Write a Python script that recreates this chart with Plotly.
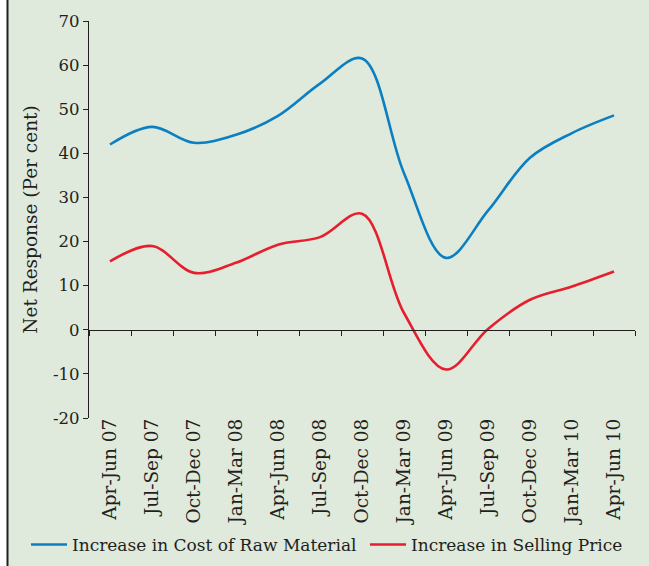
import plotly.graph_objects as go

quarters = ["Apr-Jun 07", "Jul-Sep 07", "Oct-Dec 07", "Jan-Mar 08", "Apr-Jun 08",
            "Jul-Sep 08", "Oct-Dec 08", "Jan-Mar 09", "Apr-Jun 09", "Jul-Sep 09",
            "Oct-Dec 09", "Jan-Mar 10", "Apr-Jun 10"]
raw_material = [42.0, 46.0, 42.4, 44.2, 48.5, 55.8, 61.5, 35.5, 16.3, 27.0, 39.0, 44.6, 48.6]
selling_price = [15.5, 19.0, 12.9, 15.2, 19.3, 21.0, 26.3, 3.8, -9.0, 0.2, 6.8, 9.8, 13.2]
ytick_vals = [-20, -10, 0, 10, 20, 30, 40, 50, 60, 70]
ytick_text = ["-20", "-10", "0", "10", "20", "30", "40", "50", "60", "70"]

BG = "#dfe9dc"
INK = "#231f20"
FONT = "DejaVu Serif"
W, H = 649, 566

fig = go.Figure()
fig.add_trace(go.Scatter(x=quarters, y=raw_material, mode="lines",
                         name="Increase in Cost of Raw Material", legend="legend",
                         line=dict(color="#0a7fc2", width=2.6, shape="spline", smoothing=1.0)))
fig.add_trace(go.Scatter(x=quarters, y=selling_price, mode="lines",
                         name="Increase in Selling Price", legend="legend2",
                         line=dict(color="#e61e2e", width=2.6, shape="spline", smoothing=1.0)))
# invisible trace to drive the zero-line axis
fig.add_trace(go.Scatter(x=quarters, y=[None]*len(quarters), xaxis="x2", showlegend=False,
                         hoverinfo="skip"))

ymin, ymax = -20, 70
zero_pos = (0 - ymin) / (ymax - ymin)
PW, PH = 546, 397

legend_common = dict(orientation="h", xref="container", yref="container",
                     xanchor="left", yanchor="middle", y=1 - 545 / H,
                     bgcolor="rgba(0,0,0,0)", font=dict(size=17), itemwidth=36)

fig.update_layout(
    width=W, height=H,
    margin=dict(l=89, r=14, t=21, b=148, autoexpand=False),
    paper_bgcolor=BG, plot_bgcolor=BG,
    font=dict(family=FONT, size=17, color=INK),
    xaxis=dict(type="category", showline=False, ticks="", tickangle=-90,
               showgrid=False, zeroline=False, tickfont=dict(size=18.5),
               ticklabelstandoff=-4,
               automargin=False, range=[-0.5, len(quarters) - 0.5]),
    xaxis2=dict(type="category", overlaying="x", anchor="free", position=zero_pos,
                showline=True, linecolor=INK, linewidth=1.3,
                ticks="outside", tickson="boundaries", ticklen=5, tickcolor=INK, tickwidth=1.3,
                showticklabels=False, showgrid=False, zeroline=False, automargin=False,
                range=[-0.5, len(quarters) - 0.5], matches="x"),
    yaxis=dict(range=[ymin, ymax], tickvals=ytick_vals, ticktext=ytick_text,
               showline=True, linecolor=INK, linewidth=1.3,
               ticks="outside", ticklen=5, tickcolor=INK, tickwidth=1.3,
               showgrid=False, zeroline=False, tickfont=dict(size=16.5), automargin=False,
               title=dict(text="Net Response (Per cent)", font=dict(size=18.5), standoff=10)),
    legend=dict(x=26 / W, **legend_common),
    legend2=dict(x=365 / W, **legend_common),
    showlegend=True,
)

# white strip and frame line at the left edge
fig.add_shape(type="rect", xref="paper", yref="paper", x0=-89/PW, x1=-82/PW,
              y0=-148/PH, y1=1 + 21/PH, fillcolor="white", line=dict(width=0), layer="below")
fig.add_shape(type="line", xref="paper", yref="paper", x0=-81.5/PW, x1=-81.5/PW,
              y0=-148/PH, y1=1 + 21/PH, line=dict(color=INK, width=2))

fig.write_html("out.html", config={"displayModeBar": False},
               post_script="document.body.style.margin='0';")
